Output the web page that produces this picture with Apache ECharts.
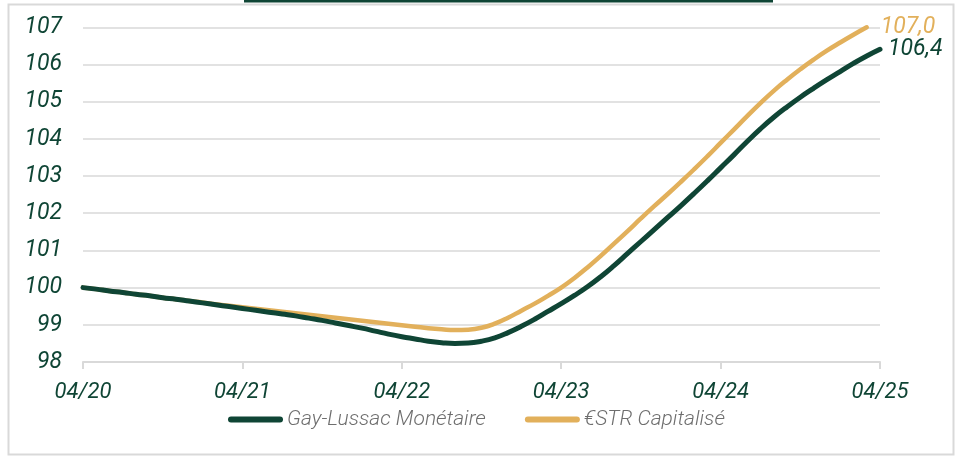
<!DOCTYPE html>
<html>
<head>
<meta charset="utf-8">
<script src="https://cdn.jsdelivr.net/npm/echarts@6/dist/echarts.min.js"></script>
<style>
  html, body { margin: 0; padding: 0; background: #fff; }
  #chart { width: 963px; height: 458px; }
</style>
</head>
<body>
<div id="chart"></div>
<script>
// mois d'avril 2020 à avril 2025
const months = [
  "04/20","05/20","06/20","07/20","08/20","09/20","10/20","11/20","12/20","01/21","02/21","03/21",
  "04/21","05/21","06/21","07/21","08/21","09/21","10/21","11/21","12/21","01/22","02/22","03/22",
  "04/22","05/22","06/22","07/22","08/22","09/22","10/22","11/22","12/22","01/23","02/23","03/23",
  "04/23","05/23","06/23","07/23","08/23","09/23","10/23","11/23","12/23","01/24","02/24","03/24",
  "04/24","05/24","06/24","07/24","08/24","09/24","10/24","11/24","12/24","01/25","02/25","03/25",
  "04/25"
];

const gayLussac = [
  100.00, 99.96, 99.91, 99.87, 99.82, 99.78, 99.73, 99.69, 99.64, 99.59,
  99.54, 99.49, 99.44, 99.39, 99.34, 99.29, 99.24, 99.18, 99.12, 99.05,
  98.98, 98.91, 98.83, 98.75, 98.68, 98.62, 98.56, 98.52, 98.50, 98.51,
  98.56, 98.65, 98.79, 98.96, 99.15, 99.36, 99.57, 99.79, 100.03, 100.30,
  100.60, 100.92, 101.24, 101.56, 101.88, 102.20, 102.53, 102.87, 103.22, 103.57,
  103.93, 104.27, 104.58, 104.86, 105.12, 105.36, 105.59, 105.81, 106.03, 106.23,
  106.41
];

const estr = [
  100.00, 99.96, 99.91, 99.87, 99.82, 99.78, 99.73, 99.69, 99.64, 99.60,
  99.55, 99.51, 99.47, 99.43, 99.39, 99.35, 99.31, 99.27, 99.23, 99.19,
  99.15, 99.11, 99.07, 99.03, 98.99, 98.95, 98.91, 98.88, 98.86, 98.87,
  98.92, 99.03, 99.19, 99.38, 99.57, 99.78, 100.00, 100.26, 100.55, 100.86,
  101.19, 101.52, 101.86, 102.19, 102.51, 102.84, 103.18, 103.53, 103.89, 104.25,
  104.61, 104.96, 105.29, 105.59, 105.87, 106.13, 106.37, 106.59, 106.80, 107.00
];

const GREEN = "#0f4535";
const GOLD = "#e2b05b";
const FONT = "Roboto";

const chart = echarts.init(document.getElementById("chart"));

const fmt = (p) => p.value.toFixed(1).replace(".", ",");

chart.setOption({
  animation: false,
  graphic: [
    // cadre gris
    { type: "rect", shape: { x: 8.5, y: 4.5, width: 945, height: 450 },
      style: { fill: "none", stroke: "#d9d9d9", lineWidth: 2 } },
    // filet du titre (coupé)
    { type: "rect", shape: { x: 244, y: 0, width: 529, height: 2.5 },
      style: { fill: GREEN } }
  ],
  grid: { left: 83, right: 83, top: 27.3, bottom: 96 },
  legend: {
    bottom: 23,
    left: 223,
    itemWidth: 55,
    itemHeight: 6,
    itemGap: 39,
    icon: "path://M3,0H52A3,3 0 0 1 52,6H3A3,3 0 0 1 3,0Z",
    textStyle: { fontFamily: FONT, fontStyle: "italic", fontWeight: 300, fontSize: 21, color: "#6e6e6e", padding: [0, 0, 0, -1] },
    data: ["Gay-Lussac Monétaire", "€STR Capitalisé"]
  },
  xAxis: {
    type: "category",
    data: months,
    boundaryGap: false,
    axisLine: { lineStyle: { color: "#d9d9d9", width: 2 } },
    axisTick: { interval: 11, length: 7, lineStyle: { color: "#d9d9d9", width: 2 } },
    axisLabel: { interval: 11, margin: 19, fontFamily: FONT, fontStyle: "italic", fontSize: 22, color: GREEN }
  },
  yAxis: {
    type: "value",
    min: 98,
    max: 107,
    interval: 1,
    axisLine: { show: false },
    axisTick: { show: false },
    splitLine: { lineStyle: { color: "#d9d9d9", width: 1.5 } },
    axisLabel: { margin: 21, fontFamily: FONT, fontStyle: "italic", fontSize: 23, color: GREEN }
  },
  series: [
    {
      name: "Gay-Lussac Monétaire",
      type: "line",
      data: gayLussac,
      symbol: "none",
      smooth: true,
      clip: false,
      z: 3,
      color: GREEN,
      lineStyle: { color: GREEN, width: 5, cap: "round" },
      endLabel: { show: true, formatter: fmt, distance: 8, fontFamily: FONT, fontStyle: "italic", fontSize: 23, color: GREEN }
    },
    {
      name: "€STR Capitalisé",
      type: "line",
      data: estr,
      symbol: "none",
      smooth: true,
      clip: false,
      z: 2,
      color: GOLD,
      lineStyle: { color: GOLD, width: 4.5, cap: "round" },
      endLabel: { show: true, formatter: fmt, distance: 14, fontFamily: FONT, fontStyle: "italic", fontSize: 23, color: GOLD }
    }
  ]
});

window.addEventListener("resize", () => chart.resize());
</script>
</body>
</html>
